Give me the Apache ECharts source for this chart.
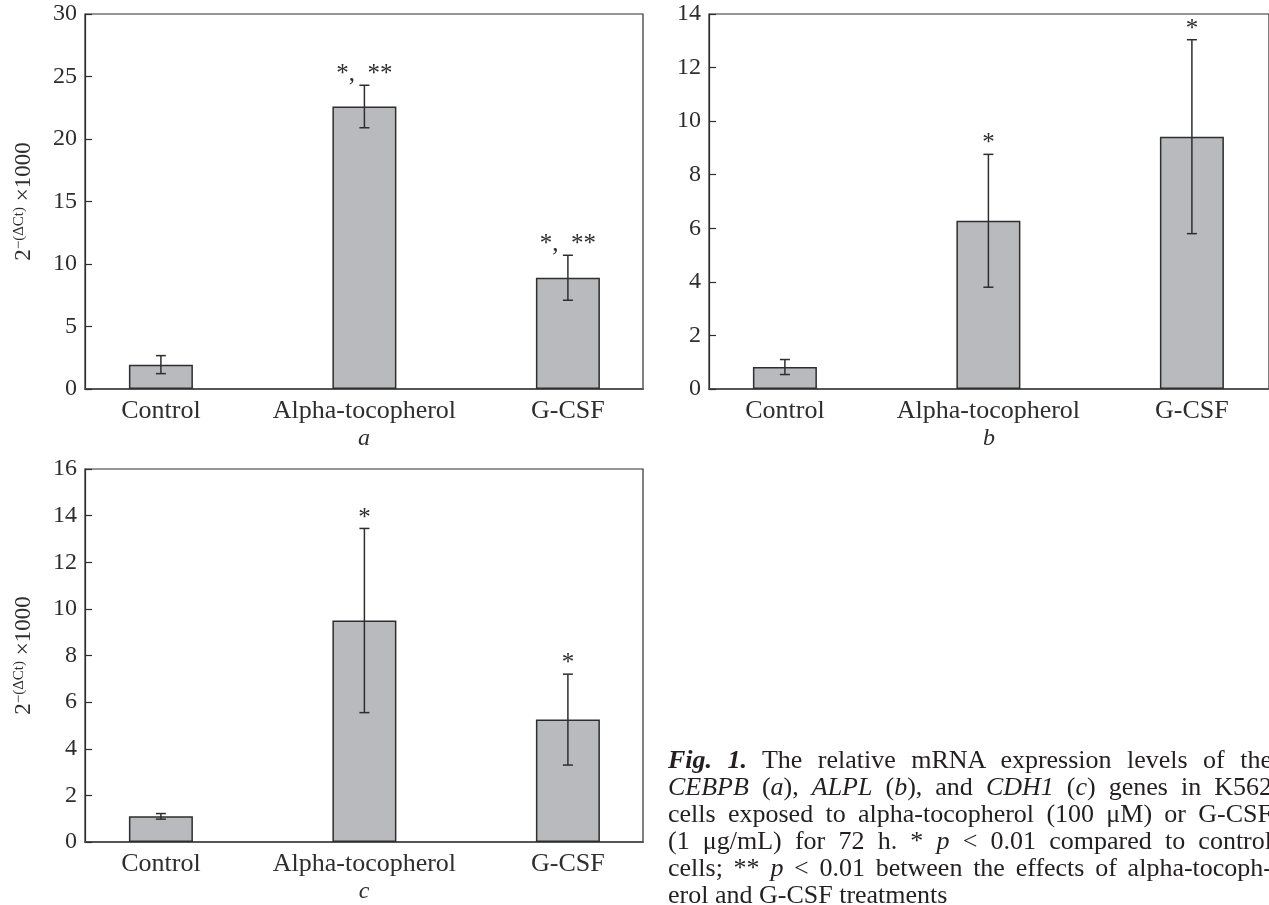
<!DOCTYPE html>
<html>
<head>
<meta charset="utf-8">
<script src="https://cdn.jsdelivr.net/npm/echarts@6/dist/echarts.min.js"></script>
<style>
  html, body { margin: 0; padding: 0; background: #fff; overflow: hidden; }
  #chart { width: 1269px; height: 905px; }
  .caption {
    position: absolute; left: 668px; top: 746px; width: 604px;
    font-family: 'Liberation Serif', serif; font-size: 26px; line-height: 27px; color: #231f20;
  }
  .caption div { text-align: justify; text-align-last: justify; white-space: nowrap; }
  .caption div.last { text-align-last: left; }
</style>
</head>
<body>
<div id="chart"></div>
<div class="caption">
  <div><b><i>Fig. 1.</i></b> The relative mRNA expression levels of the</div>
  <div><i>CEBPB</i> (<i>a</i>), <i>ALPL</i> (<i>b</i>), and <i>CDH1</i> (<i>c</i>) genes in K562</div>
  <div>cells exposed to alpha-tocopherol (100 μM) or G-CSF</div>
  <div>(1 μg/mL) for 72 h. * <i>p</i> &lt; 0.01 compared to control</div>
  <div>cells; ** <i>p</i> &lt; 0.01 between the effects of alpha-tocoph-</div>
  <div class="last">erol and G-CSF treatments</div>
</div>
<script>
const categories = ['Control', 'Alpha-tocopherol', 'G-CSF']

// a: CEBPB
const cebpbMean  = [1.95, 22.6, 8.9]
const cebpbErr   = [0.72, 1.7, 1.8]
const cebpbMarks = ['', '*,  **', '*,  **']

// b: ALPL
const alplMean  = [0.82, 6.28, 9.42]
const alplErr   = [0.28, 2.48, 3.62]
const alplMarks = ['', '*', '*']

// c: CDH1
const cdh1Mean  = [1.1, 9.5, 5.25]
const cdh1Err   = [0.12, 3.95, 1.95]
const cdh1Marks = ['', '*', '*']

const SERIF = '"Liberation Serif", "DejaVu Serif", serif'
const INK = '#2e2e2e'

const panels = [
  { grid: { left: 85,  top: 14,  width: 558, height: 375 }, max: 30, step: 5, mean: cebpbMean, err: cebpbErr, marks: cebpbMarks, tag: 'a', yName: true },
  { grid: { left: 709, top: 14,  width: 560, height: 375 }, max: 14, step: 2, mean: alplMean,  err: alplErr,  marks: alplMarks,  tag: 'b', yName: false },
  { grid: { left: 85,  top: 469, width: 558, height: 374 }, max: 16, step: 2, mean: cdh1Mean,  err: cdh1Err,  marks: cdh1Marks,  tag: 'c', yName: true }
]

function errorBars(marks) {
  return function (params, api) {
    const top = api.coord([api.value(0), api.value(2)])
    const bot = api.coord([api.value(0), api.value(1)])
    const cap = 5
    const line = { stroke: INK, lineWidth: 1.5 }
    const children = [
      { type: 'line', shape: { x1: top[0], y1: top[1], x2: bot[0], y2: bot[1] }, style: line },
      { type: 'line', shape: { x1: top[0] - cap, y1: top[1], x2: top[0] + cap, y2: top[1] }, style: line },
      { type: 'line', shape: { x1: bot[0] - cap, y1: bot[1], x2: bot[0] + cap, y2: bot[1] }, style: line }
    ]
    const mark = marks[params.dataIndex]
    if (mark) {
      children.push({
        type: 'text',
        style: {
          text: mark, x: top[0], y: top[1] + 2,
          align: 'center', verticalAlign: 'bottom',
          fontSize: 25, fontFamily: SERIF, fill: INK
        }
      })
    }
    return { type: 'group', children }
  }
}

const grid = [], xAxis = [], yAxis = [], series = []
panels.forEach((p, k) => {
  grid.push(Object.assign({ show: true, borderColor: INK, borderWidth: 1.2, backgroundColor: 'transparent' }, p.grid))
  const span = p.grid.width / 203.5
  xAxis.push({
    gridIndex: k, type: 'value', min: -0.373, max: -0.373 + span,
    name: p.tag, nameLocation: 'middle', nameGap: 38,
    nameTextStyle: { fontFamily: SERIF, fontSize: 24, fontStyle: 'italic', color: INK },
    axisLine: { onZero: false, lineStyle: { color: '#555', width: 2 } },
    axisTick: { show: false },
    splitLine: { show: false },
    axisLabel: {
      customValues: [0, 1, 2],
      formatter: (v) => categories[v] ?? '',
      margin: 9, fontFamily: SERIF, fontSize: 26, color: INK
    }
  })
  yAxis.push({
    gridIndex: k, type: 'value', min: 0, max: p.max, interval: p.step,
    name: p.yName ? '{b|2}{s|−(ΔCt)}{b| ×1000}' : '',
    nameLocation: 'middle', nameGap: 50,
    nameTextStyle: {
      color: INK,
      rich: {
        b: { fontFamily: SERIF, fontSize: 23, color: INK },
        s: { fontFamily: SERIF, fontSize: 15, color: INK, verticalAlign: 'top' }
      }
    },
    axisLine: { show: true, onZero: false, lineStyle: { color: INK, width: 1.2 } },
    axisTick: { show: true, inside: true, length: 7, lineStyle: { color: INK, width: 1.2 } },
    splitLine: { show: false },
    axisLabel: { margin: 8, fontFamily: SERIF, fontSize: 24, color: INK }
  })
  series.push({
    type: 'bar', xAxisIndex: k, yAxisIndex: k, barWidth: 64,
    data: p.mean.map((v, i) => [i, v]),
    itemStyle: { color: '#b9babe', borderColor: INK, borderWidth: 1.5 },
    silent: true
  })
  series.push({
    type: 'custom', xAxisIndex: k, yAxisIndex: k,
    data: p.mean.map((v, i) => [i, v - p.err[i], v + p.err[i]]),
    encode: { x: 0, y: [1, 2] },
    renderItem: errorBars(p.marks),
    silent: true, z: 5
  })
})

const chart = echarts.init(document.getElementById('chart'), null, { renderer: 'canvas' })
chart.setOption({ animation: false, backgroundColor: '#fff', grid, xAxis, yAxis, series })
</script>
</body>
</html>
